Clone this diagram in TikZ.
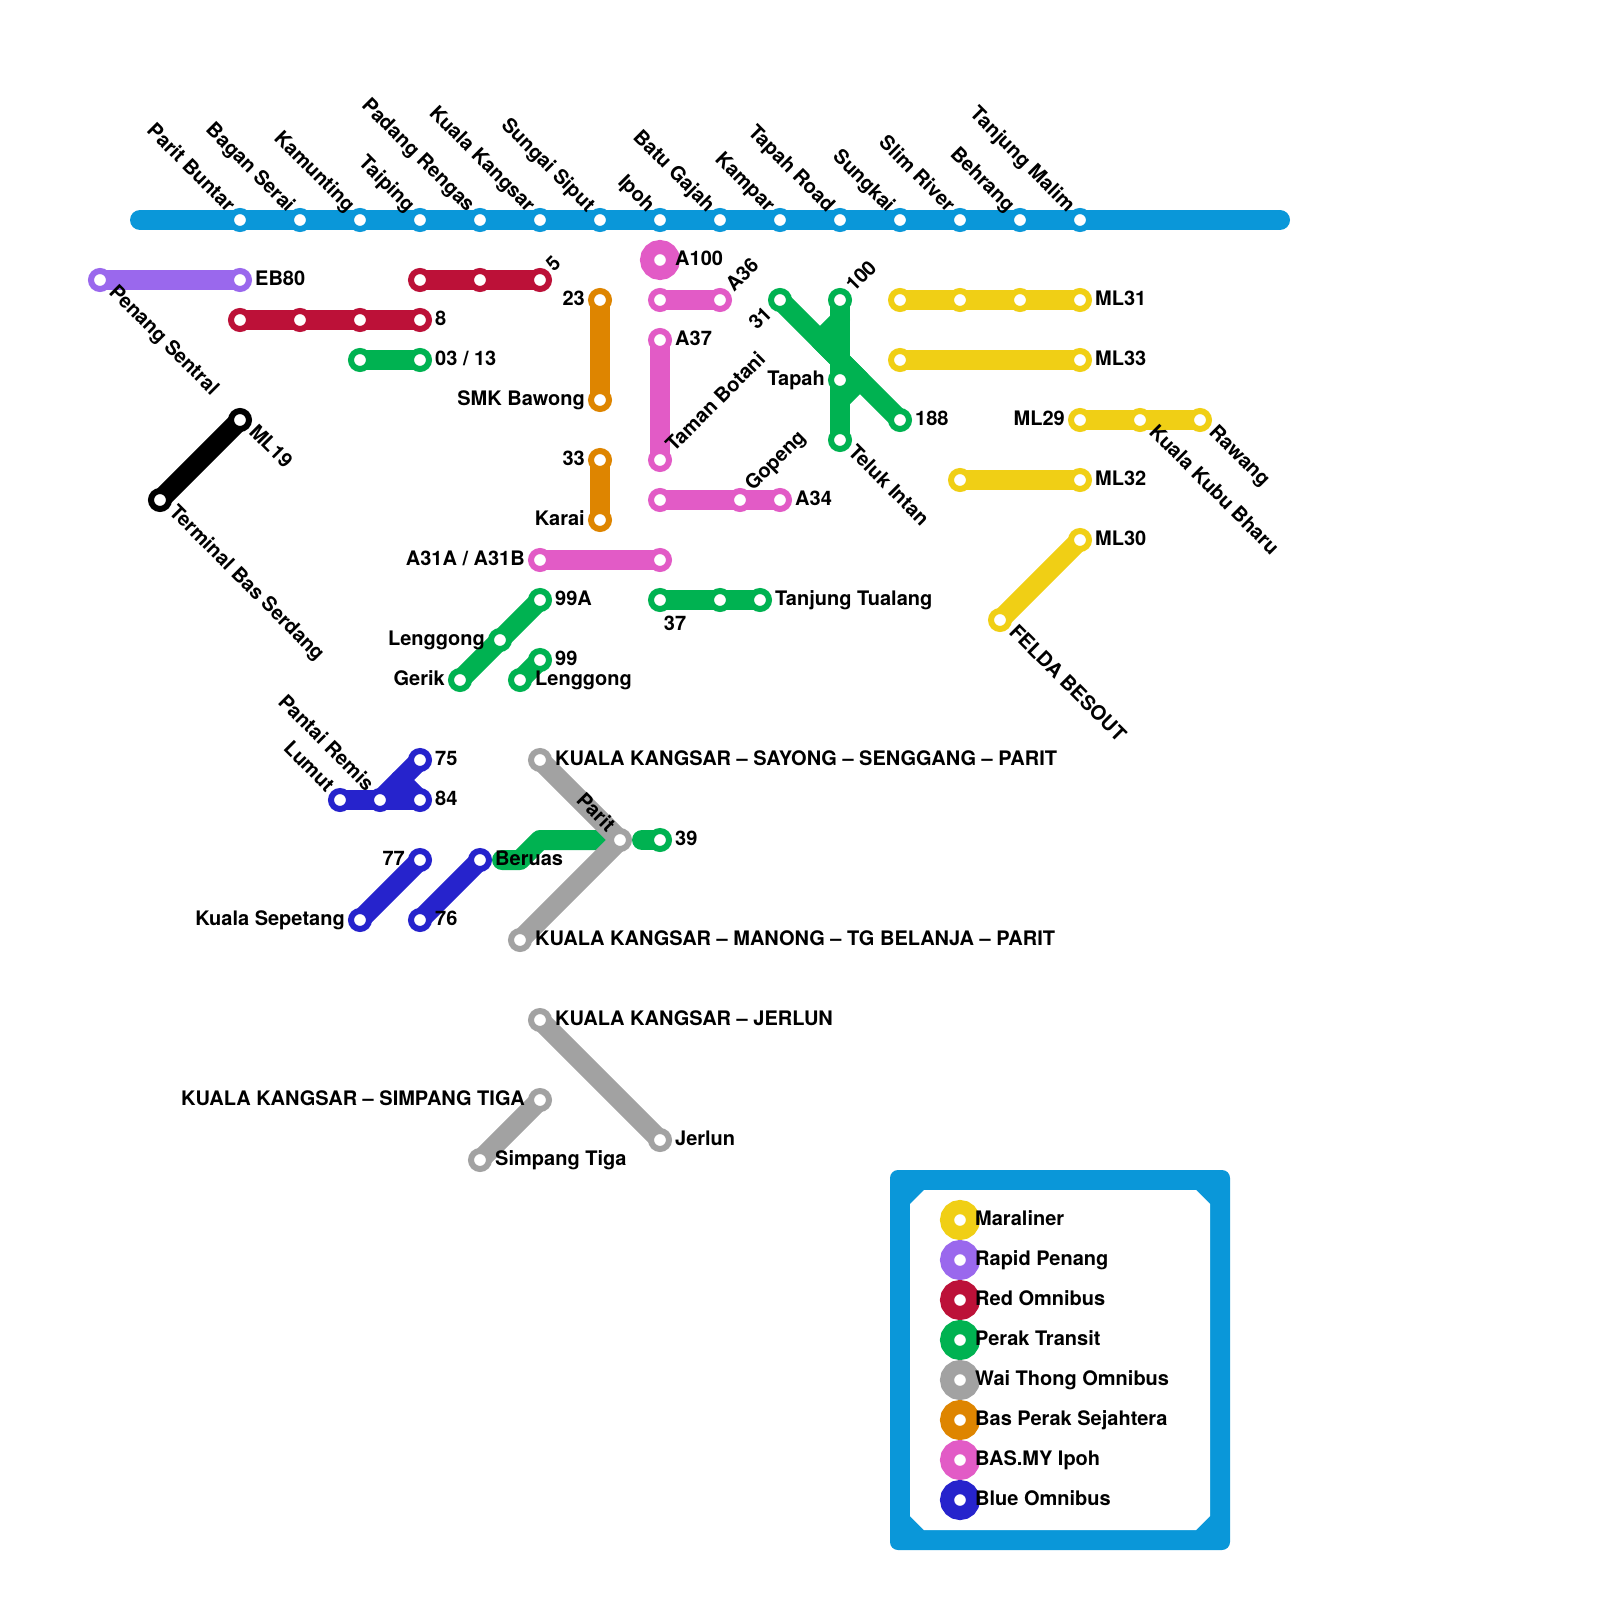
\documentclass[tikz,border=0pt]{standalone}
\usepackage{fontspec}
\setmainfont{TeX Gyre Heros}
\definecolor{cblue}{HTML}{0A97D9}
\definecolor{cpurple}{HTML}{9A68ED}
\definecolor{cred}{HTML}{BC1138}
\definecolor{cgreen}{HTML}{00B251}
\definecolor{cgray}{HTML}{A2A2A2}
\definecolor{corange}{HTML}{DE8500}
\definecolor{cpink}{HTML}{E25BC6}
\definecolor{cnavy}{HTML}{2623CC}
\definecolor{cyellow}{HTML}{F0CF15}
\tikzset{
  route/.style={line width=20pt,line cap=round,line join=round,draw=#1},
  stn/.style={circle,inner sep=0pt,minimum size=18pt,line width=6pt,draw=#1,fill=white},
  big/.style={circle,inner sep=0pt,minimum size=26pt,line width=14pt,draw=#1,fill=white},
  lab/.style={font=\fontsize{20pt}{20pt}\selectfont\bfseries,inner sep=0pt,text=black},
  labr/.style={lab,anchor=base west},
  labl/.style={lab,anchor=base east},
  dnw/.style={lab,anchor=base west,rotate=-45},
  dne/.style={lab,anchor=base east,rotate=-45},
  upw/.style={lab,anchor=base west,rotate=45},
  upe/.style={lab,anchor=base east,rotate=45},
}
\newcommand{\pt}[3]{\coordinate (#1) at (#2,#3);}
\newcommand{\mk}[2]{\foreach \nn in {#2}{\node[stn=#1] (m\nn) at (\nn) {};}}
\begin{document}
\begin{tikzpicture}[x=1pt,y=-1pt]
\useasboundingbox (0,0) rectangle (1600,1600);
\foreach \i/\x in {a/240,b/300,c/360,d/420,e/480,f/540,g/600,h/660,i/720,j/780,k/840,l/900,m/960,n/1020,o/1080}{\coordinate (T\i) at (\x,220);}
\pt{Tstart}{140}{220}\pt{Tend}{1280}{220}
\pt{P1}{100}{280}\pt{P2}{240}{280}
\pt{R1}{420}{280}\pt{R2}{480}{280}\pt{R3}{540}{280}
\pt{Q1}{240}{320}\pt{Q2}{300}{320}\pt{Q3}{360}{320}\pt{Q4}{420}{320}
\pt{G1}{360}{360}\pt{G2}{420}{360}
\pt{O1}{600}{300}\pt{O2}{600}{400}\pt{O3}{600}{460}\pt{O4}{600}{520}
\pt{K1}{240}{420}\pt{K2}{160}{500}
\pt{A100}{660}{260}
\pt{A1}{660}{300}\pt{A2}{720}{300}
\pt{A3}{660}{340}\pt{A4}{660}{460}
\pt{A5}{660}{500}\pt{A6}{740}{500}\pt{A7}{780}{500}
\pt{A8}{540}{560}\pt{A9}{660}{560}
\pt{S1}{780}{300}\pt{S2}{900}{420}
\pt{S3}{840}{300}\pt{S4}{840}{380}\pt{S5}{840}{440}
\pt{S6a}{840}{320}\pt{S6b}{820}{340}\pt{S7a}{860}{380}\pt{S7b}{840}{400}
\pt{Y1}{900}{300}\pt{Y2}{960}{300}\pt{Y3}{1020}{300}\pt{Y4}{1080}{300}
\pt{Y5}{900}{360}\pt{Y6}{1080}{360}
\pt{Y7}{1080}{420}\pt{Y8}{1140}{420}\pt{Y9}{1200}{420}
\pt{Y10}{960}{480}\pt{Y11}{1080}{480}
\pt{Y12}{1080}{540}\pt{Y13}{1000}{620}
\pt{T1}{660}{600}\pt{T2}{720}{600}\pt{T3}{760}{600}
\pt{U1}{540}{600}\pt{U2}{500}{640}\pt{U3}{460}{680}
\pt{U4}{540}{660}\pt{U5}{520}{680}
\pt{B1}{340}{800}\pt{B2}{380}{800}\pt{B3}{420}{800}\pt{B4}{420}{760}\pt{B5}{400}{780}
\pt{B6}{420}{860}\pt{B7}{360}{920}\pt{B8}{480}{860}\pt{B9}{420}{920}
\pt{V0}{502}{860}\pt{V1}{520}{860}\pt{V2}{540}{840}\pt{V2b}{600}{840}\pt{V2c}{642}{840}\pt{V3}{660}{840}
\pt{W1}{540}{760}\pt{W2}{620}{840}\pt{W3}{520}{940}
\pt{W4}{540}{1020}\pt{W5}{660}{1140}
\pt{W6}{540}{1100}\pt{W7}{480}{1160}
\draw[route=cblue] (Tstart) -- (Tend);
\draw[route=cpurple] (P1) -- (P2);
\draw[route=cred] (R1) -- (R3);
\draw[route=cred] (Q1) -- (Q4);
\draw[route=cgreen] (G1) -- (G2);
\draw[route=corange] (O1) -- (O2);
\draw[route=corange] (O3) -- (O4);
\draw[route=black] (K1) -- (K2);
\draw[route=cpink] (A1) -- (A2);
\draw[route=cpink] (A3) -- (A4);
\draw[route=cpink] (A5) -- (A7);
\draw[route=cpink] (A8) -- (A9);
\draw[route=cgreen] (S1) -- (S2);
\draw[route=cgreen] (S3) -- (S5);
\draw[route=cgreen] (S6a) -- (S6b) -- (S7a) -- (S7b);
\draw[route=cyellow] (Y1) -- (Y4);
\draw[route=cyellow] (Y5) -- (Y6);
\draw[route=cyellow] (Y7) -- (Y9);
\draw[route=cyellow] (Y10) -- (Y11);
\draw[route=cyellow] (Y12) -- (Y13);
\draw[route=cgreen] (T1) -- (T3);
\draw[route=cgreen] (U1) -- (U3);
\draw[route=cgreen] (U4) -- (U5);
\draw[route=cgreen] (V0) -- (V1) -- (V2) -- (V2b);
\draw[route=cgreen] (V2c) -- (V3);
\draw[route=cnavy] (B1) -- (B3);
\draw[route=cnavy] (B4) -- (B2);
\draw[route=cnavy] (B5) -- (B3);
\draw[route=cnavy] (B6) -- (B7);
\draw[route=cnavy] (B8) -- (B9);
\draw[route=cgray] (W1) -- (W2) -- (W3);
\draw[route=cgray] (W4) -- (W5);
\draw[route=cgray] (W6) -- (W7);
\mk{cblue}{Ta,Tb,Tc,Td,Te,Tf,Tg,Th,Ti,Tj,Tk,Tl,Tm,Tn,To}
\mk{cpurple}{P1,P2}
\mk{cred}{R1,R2,R3,Q1,Q2,Q3,Q4}
\mk{cgreen}{G1,G2,S1,S2,S3,S5,T1,T2,T3,U1,U2,U3,U4,U5,V3}
\mk{corange}{O1,O2,O3,O4}
\mk{black}{K1,K2}
\mk{cpink}{A1,A2,A3,A4,A5,A6,A7,A8,A9}
\mk{cyellow}{Y1,Y2,Y3,Y4,Y5,Y6,Y7,Y8,Y9,Y10,Y11,Y12,Y13}
\mk{cnavy}{B1,B2,B3,B4,B6,B7,B8,B9}
\mk{cgray}{W1,W2,W3,W4,W5,W6,W7}
\node[stn=cgreen] (mS4) at (S4) {};
\node[big=cpink] (mA100) at (A100) {};
\node[dne] (l1) at ([shift={(-13,-7)}]Ta) {Parit Buntar};
\node[dne] (l2) at ([shift={(-13,-7)}]Tb) {Bagan Serai};
\node[dne] (l3) at ([shift={(-13,-7)}]Tc) {Kamunting};
\node[dne] (l4) at ([shift={(-13,-7)}]Td) {Taiping};
\node[dne] (l5) at ([shift={(-13,-7)}]Te) {Padang Rengas};
\node[dne] (l6) at ([shift={(-13,-7)}]Tf) {Kuala Kangsar};
\node[dne] (l7) at ([shift={(-13,-7)}]Tg) {Sungai Siput};
\node[dne] (l8) at ([shift={(-13,-7)}]Th) {Ipoh};
\node[dne] (l9) at ([shift={(-13,-7)}]Ti) {Batu Gajah};
\node[dne] (l10) at ([shift={(-13,-7)}]Tj) {Kampar};
\node[dne] (l11) at ([shift={(-13,-7)}]Tk) {Tapah Road};
\node[dne] (l12) at ([shift={(-13,-7)}]Tl) {Sungkai};
\node[dne] (l13) at ([shift={(-13,-7)}]Tm) {Slim River};
\node[dne] (l14) at ([shift={(-13,-7)}]Tn) {Behrang};
\node[dne] (l15) at ([shift={(-13,-7)}]To) {Tanjung Malim};
\node[labr] (l16) at ([shift={(15,5)}]P2) {EB80};
\node[dnw] (l17) at ([shift={(8,13)}]P1) {Penang Sentral};
\node[upw] (l18) at ([shift={(14,-7)}]R3) {5};
\node[labr] (l19) at ([shift={(15,5)}]Q4) {8};
\node[labr] (l20) at ([shift={(15,5)}]G2) {03 / 13};
\node[labl] (l21) at ([shift={(-15,5)}]O1) {23};
\node[labl] (l22) at ([shift={(-15,5)}]O2) {SMK Bawong};
\node[labl] (l23) at ([shift={(-15,5)}]O3) {33};
\node[labl] (l24) at ([shift={(-15,5)}]O4) {Karai};
\node[dnw] (l25) at ([shift={(8,13)}]K1) {ML19};
\node[dnw] (l26) at ([shift={(8,13)}]K2) {Terminal Bas Serdang};
\node[labr] (l27) at ([shift={(15,5)}]A100) {A100};
\node[upw] (l28) at ([shift={(14,-7)}]A2) {A36};
\node[labr] (l29) at ([shift={(15,5)}]A3) {A37};
\node[upw] (l30) at ([shift={(14,-7)}]A4) {Taman Botani};
\node[upw] (l31) at ([shift={(13,-8)}]A6) {Gopeng};
\node[labr] (l32) at ([shift={(15,5)}]A7) {A34};
\node[labl] (l33) at ([shift={(-15,5)}]A8) {A31A / A31B};
\node[upw] (l34) at ([shift={(14,-7)}]S3) {100};
\node[upe] (l35) at ([shift={(-7,15)}]S1) {31};
\node[labl] (l36) at ([shift={(-15,5)}]S4) {Tapah};
\node[labr] (l37) at ([shift={(15,5)}]S2) {188};
\node[dnw] (l38) at ([shift={(7,13)}]S5) {Teluk Intan};
\node[labr] (l39) at ([shift={(15,5)}]Y4) {ML31};
\node[labr] (l40) at ([shift={(15,5)}]Y6) {ML33};
\node[labl] (l41) at ([shift={(-15,5)}]Y7) {ML29};
\node[dnw] (l42) at ([shift={(8,13)}]Y8) {Kuala Kubu Bharu};
\node[dnw] (l43) at ([shift={(8,13)}]Y9) {Rawang};
\node[labr] (l44) at ([shift={(15,5)}]Y11) {ML32};
\node[labr] (l45) at ([shift={(15,5)}]Y12) {ML30};
\node[dnw] (l46) at ([shift={(8,13)}]Y13) {FELDA BESOUT};
\node[labr] (l47) at ([shift={(15,5)}]T3) {Tanjung Tualang};
\node[lab,anchor=base] (l48) at (675,630) {37};
\node[labr] (l49) at ([shift={(15,5)}]U1) {99A};
\node[labl] (l50) at ([shift={(-15,5)}]U2) {Lenggong};
\node[labl] (l51) at ([shift={(-15,5)}]U3) {Gerik};
\node[labr] (l52) at ([shift={(15,5)}]U4) {99};
\node[labr] (l53) at ([shift={(15,5)}]U5) {Lenggong};
\node[dne] (l54) at ([shift={(-14,-7)}]B1) {Lumut};
\node[dne] (l55) at ([shift={(-14,-8)}]B2) {Pantai Remis};
\node[labr] (l56) at ([shift={(15,5)}]B4) {75};
\node[labr] (l57) at ([shift={(15,5)}]B3) {84};
\node[labl] (l58) at ([shift={(-15,5)}]B6) {77};
\node[labl] (l59) at ([shift={(-15,5)}]B7) {Kuala Sepetang};
\node[labr] (l60) at ([shift={(15,5)}]B9) {76};
\node[labr] (l61) at ([shift={(15,5)}]B8) {Beruas};
\node[labr] (l62) at ([shift={(15,5)}]V3) {39};
\node[labr] (l63) at ([shift={(15,5)}]W1) {KUALA KANGSAR – SAYONG – SENGGANG – PARIT};
\node[dne] (l64) at ([shift={(-13,-7)}]W2) {Parit};
\node[labr] (l65) at ([shift={(15,5)}]W3) {KUALA KANGSAR – MANONG – TG BELANJA – PARIT};
\node[labr] (l66) at ([shift={(15,5)}]W4) {KUALA KANGSAR – JERLUN};
\node[labr] (l67) at ([shift={(15,5)}]W5) {Jerlun};
\node[labl] (l68) at ([shift={(-15,5)}]W6) {KUALA KANGSAR – SIMPANG TIGA};
\node[labr] (l69) at ([shift={(15,5)}]W7) {Simpang Tiga};
\fill[cblue,rounded corners=8pt] (890,1170) rectangle (1230,1550);
\fill[white] (924,1190) -- (1196,1190) -- (1210,1204) -- (1210,1516) -- (1196,1530) -- (924,1530) -- (910,1516) -- (910,1204) -- cycle;
\foreach \col/\txt/\yy/\id in {cyellow/Maraliner/1220/a,cpurple/Rapid Penang/1260/b,cred/Red Omnibus/1300/c,cgreen/Perak Transit/1340/d,cgray/Wai Thong Omnibus/1380/e,corange/Bas Perak Sejahtera/1420/f,cpink/BAS.MY Ipoh/1460/g,cnavy/Blue Omnibus/1500/h}{
  \node[big=\col] (key\id) at (960,\yy) {};
  \node[labr] (keylab\id) at ([shift={(15,5)}]key\id.center) {\txt};
}
\end{tikzpicture}
\end{document}
